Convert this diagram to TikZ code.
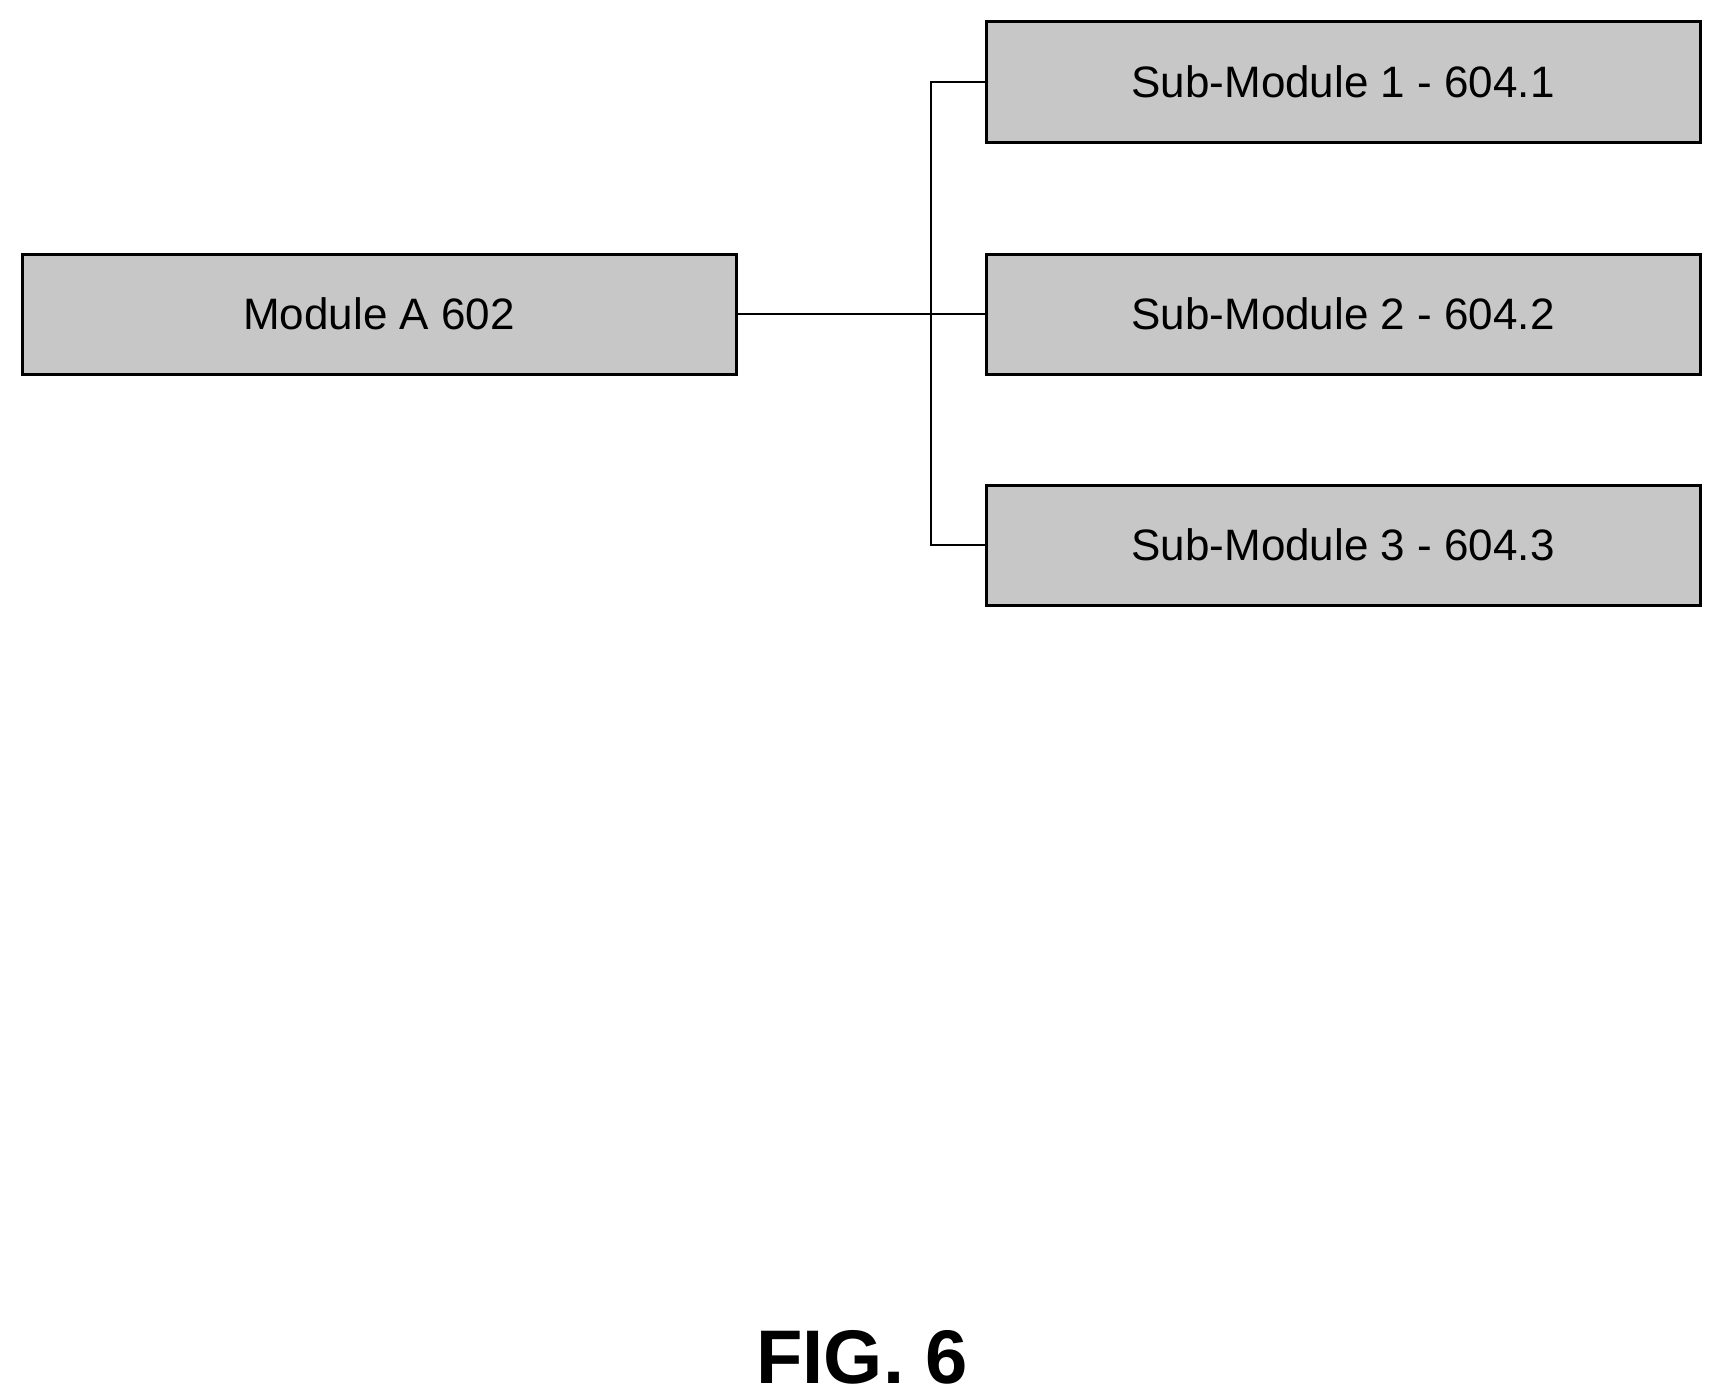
\documentclass[tikz,border=0pt]{standalone}
\usepackage{fontspec}
\setmainfont{Liberation Sans}
\begin{document}
\begin{tikzpicture}[x=1pt,y=-1pt,
  box/.style={draw=black,line width=3pt,fill=black!22,minimum width=714pt,minimum height=120pt,inner sep=0pt,font=\fontsize{44}{50}\selectfont},
  conn/.style={line width=1.3pt}]
\useasboundingbox (0,0) rectangle (1714,1397);
\node[box] (a) at (379,314) {Module A 602};
\node[box] (s1) at (1343,82) {Sub-Module 1 - 604.1};
\node[box] (s2) at (1343,314) {Sub-Module 2 - 604.2};
\node[box] (s3) at (1343,545) {Sub-Module 3 - 604.3};
\coordinate (j) at (931,314);
\draw[conn] (a.east) -- (s2.west);
\draw[conn] (s1.west) -- (931,82) |- (s3.west);
\node[font=\bfseries\fontsize{76}{80}\selectfont] (f) at (862,1357) {FIG. 6};
\end{tikzpicture}
\end{document}
